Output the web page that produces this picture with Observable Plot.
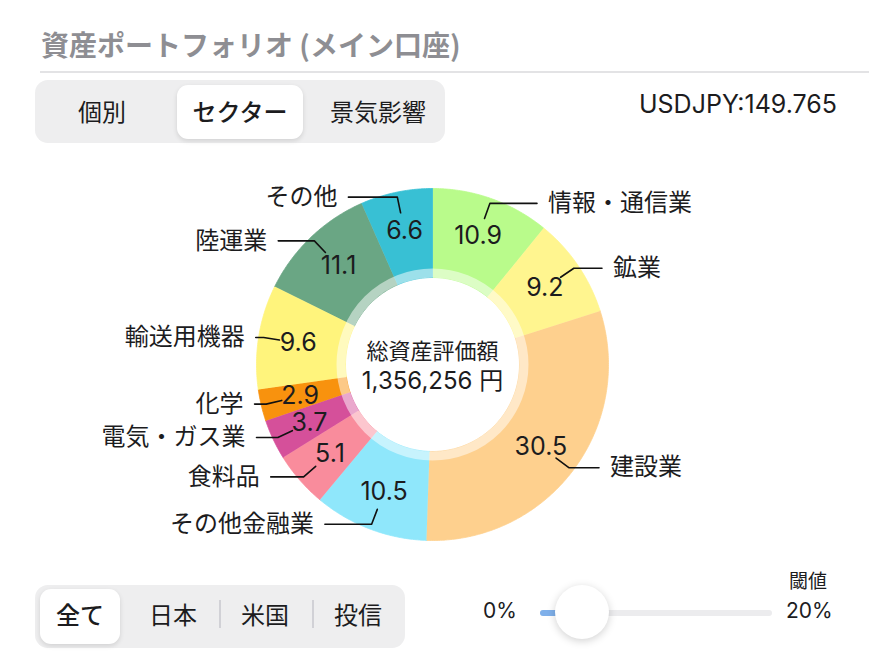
<!DOCTYPE html>
<html><head><meta charset="utf-8">
<script src="https://cdn.jsdelivr.net/npm/d3@7"></script>
<script src="https://cdn.jsdelivr.net/npm/@observablehq/plot@0.6"></script>
<style>
body{margin:0;background:#fff;font-family:Inter,"Noto Sans CJK JP",sans-serif;color:#1c1c1e;}
#root{position:relative;width:869px;height:653px;overflow:hidden;background:#fff;}
.abs{position:absolute;}
.title{left:41px;top:28px;font-size:28px;line-height:32px;font-weight:700;color:#8e8e93;font-family:"Noto Sans CJK JP",sans-serif;}
.rule{left:40px;right:0;top:71px;height:2px;background:#e3e3e5;}
.seg{background:#eeeeef;border-radius:13px;}
.sel{background:#fff;border-radius:11px;box-shadow:0 2px 5px rgba(0,0,0,0.12);}
.lab{font-size:24px;line-height:30px;height:30px;text-align:center;transform:translateX(-50%);white-space:nowrap;font-family:"Noto Sans CJK JP",sans-serif;}
.div{width:1.5px;background:#d1d1d6;}
#chart{left:0;top:150px;}
</style></head><body><div id="root">
<div class="abs title" id="title"></div>
<div class="abs rule"></div>
<div class="abs seg" style="left:35px;top:80px;width:410px;height:63px"></div>
<div class="abs sel" style="left:177px;top:85px;width:126px;height:54px"></div>
<div id="tabs1"></div>
<div class="abs" id="rate" style="right:32px;top:89px;font-size:25px;line-height:30px;"></div>
<div class="abs" id="chart"></div>
<div class="abs seg" style="left:35px;top:585px;width:370px;height:63px"></div>
<div class="abs sel" style="left:40px;top:589px;width:80px;height:55px"></div>
<div class="abs div" style="left:219px;top:600px;height:28px"></div>
<div class="abs div" style="left:312px;top:600px;height:28px"></div>
<div id="tabs2"></div>
<div class="abs" id="s0" style="left:483px;top:596px;font-size:21px;line-height:30px;"></div>
<div class="abs" style="left:540px;top:610px;width:232px;height:6px;border-radius:3px;background:#ececee"></div>
<div class="abs" style="left:540px;top:610px;width:18px;height:6px;border-radius:3px;background:#7fb0ea"></div>
<div class="abs" style="left:555px;top:585px;width:54px;height:54px;border-radius:27px;background:#fff;box-shadow:0 2px 8px rgba(0,0,0,0.18)"></div>
<div class="abs lab" id="thr" style="left:808px;top:565px;font-size:19px;"></div>
<div class="abs" id="s1" style="left:786px;top:596px;font-size:21px;line-height:30px;"></div>
</div>
<script>
// ---- data ----
const sectors = ["情報・通信業","鉱業","建設業","その他金融業","食料品","電気・ガス業","化学","輸送用機器","陸運業","その他"];
const weights = [10.9, 9.2, 30.5, 10.5, 5.1, 3.7, 2.9, 9.6, 11.1, 6.6];
const colors = ["#b9fb8b","#fff58f","#fed08e","#8fe7fb","#f98c9c","#d5509a","#f8920e","#fff47c","#6aa684","#38c0d4"];
const titleText = "資産ポートフォリオ (メイン口座)";
const rateText = "USDJPY:149.765";
const totalLabel = "総資産評価額";
const totalValue = "1,356,256 円";
const viewTabs = ["個別","セクター","景気影響"];
const regionTabs = ["全て","日本","米国","投信"];
const sliderLabels = ["0%","20%"];
const thresholdLabel = "閾値";

// ---- page text ----
document.getElementById("title").textContent = titleText;
document.getElementById("rate").textContent = rateText;
document.getElementById("s0").textContent = sliderLabels[0];
document.getElementById("s1").textContent = sliderLabels[1];
document.getElementById("thr").textContent = thresholdLabel;
const t1x = [102, 240, 378], t2x = [80, 173, 265, 358];
viewTabs.forEach((t,i)=>{const d=document.createElement("div");d.className="abs lab";d.style.left=t1x[i]+"px";d.style.top="96px";if(i===1)d.style.fontWeight="500";d.textContent=t;document.getElementById("tabs1").appendChild(d);});
regionTabs.forEach((t,i)=>{const d=document.createElement("div");d.className="abs lab";d.style.left=t2x[i]+"px";d.style.top="599px";if(i===0)d.style.fontWeight="500";d.textContent=t;document.getElementById("tabs2").appendChild(d);});

// ---- donut geometry ----
const R_OUT = 176, R_IN = 87, R_VAL = 136, R_L0 = 155, R_L1 = 171;
const arcs = d3.pie().sort(null)(weights);
const poly = [], leaders = [], names = [], values = [];
arcs.forEach((a, i) => {
  const name = sectors[i];
  const n = Math.max(2, Math.ceil((a.endAngle - a.startAngle) / 0.01));
  for (let k = 0; k <= n; k++) { const t = a.startAngle + (a.endAngle - a.startAngle) * k / n; poly.push({name, x: R_OUT * Math.sin(t), y: -R_OUT * Math.cos(t)}); }
  for (let k = n; k >= 0; k--) { const t = a.startAngle + (a.endAngle - a.startAngle) * k / n; poly.push({name, x: R_IN * Math.sin(t), y: -R_IN * Math.cos(t)}); }
  const m = (a.startAngle + a.endAngle) / 2, s = Math.sin(m), c = -Math.cos(m);
  const side = s >= 0 ? 1 : -1;
  const ex = R_L1 * s, ey = R_L1 * c, L = 50 * Math.abs(Math.cos(m));
  leaders.push({name, x: R_L0 * s, y: R_L0 * c}, {name, x: ex, y: ey}, {name, x: ex + side * L, y: ey});
  names.push({name, side, x: ex + side * (L + 11), y: ey});
  values.push({x: R_VAL * s, y: R_VAL * c, label: weights[i].toFixed(1)});
});

const font = 'Inter, "Noto Sans CJK JP", sans-serif';
const jp = '"Noto Sans CJK JP", sans-serif';
const chart = Plot.plot({
  width: 869, height: 430, margin: 0,
  x: {domain: [-432, 437], range: [0, 869], axis: null},
  y: {domain: [-214, 216], range: [0, 430], axis: null},
  color: {domain: sectors, range: colors},
  style: {fontFamily: font, background: "transparent", overflow: "visible", color: "#1c1c1e"},
  marks: [
    Plot.line(poly, {x: "x", y: "y", z: "name", fill: "name", stroke: "name", strokeWidth: 0.8, curve: "linear"}),
    Plot.dot([{x: 0, y: 0}], {x: "x", y: "y", r: 91.5, fill: "none", stroke: "white", strokeWidth: 9, strokeOpacity: 0.5}),
    Plot.line(leaders, {x: "x", y: "y", z: "name", stroke: "#111", strokeWidth: 1.6, strokeLinejoin: "round"}),
    Plot.text(values, {x: "x", y: "y", text: "label", fontSize: 25, fill: "#1c1c1e"}),
    Plot.text(names.filter(d => d.side > 0), {x: "x", y: "y", text: "name", textAnchor: "start", fontSize: 24, fontFamily: jp, fill: "#1c1c1e"}),
    Plot.text(names.filter(d => d.side < 0), {x: "x", y: "y", text: "name", textAnchor: "end", fontSize: 24, fontFamily: jp, fill: "#1c1c1e"}),
    Plot.text([totalLabel], {x: () => 0, y: () => 0, text: d => d, dy: -13, fontSize: 22, fontFamily: jp, fill: "#1c1c1e"}),
    Plot.text([totalValue], {x: () => 0, y: () => 0, text: d => d, dy: 17, fontSize: 24, fill: "#1c1c1e"})
  ]
});
document.getElementById("chart").appendChild(chart);
</script>
</body></html>
